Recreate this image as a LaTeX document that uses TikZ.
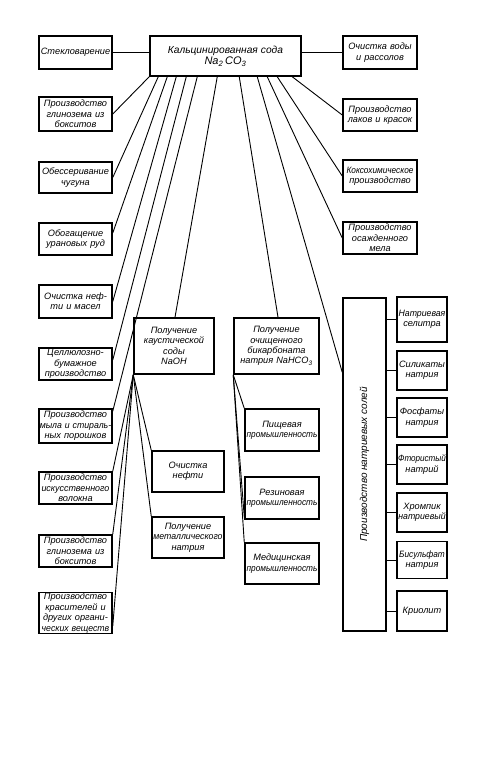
\documentclass[tikz,border=0pt]{standalone}
\usepackage{fontspec}
\usepackage{graphicx}
\setmainfont{Liberation Sans}
\usetikzlibrary{calc}
\tikzset{
  bx/.style={draw, line width=1.5pt, inner xsep=0pt, inner ysep=0.5pt, align=center, font=\itshape\fontsize{9.2}{10.4}\selectfont},
  cn/.style={line width=0.9pt},
  lbl/.style={inner sep=0pt, font=\itshape\fontsize{10}{11}\selectfont},
}
\newcommand{\bxn}[6]{\node[bx,text width=#4pt,minimum width=#4pt,minimum height=#5pt] (#1) at (#2,#3) {#6};}
\newcommand{\nr}[2][0.95]{\scalebox{#1}[1]{#2}}
\begin{document}
\begin{tikzpicture}[x=1pt,y=-1pt]
\useasboundingbox (0,0) rectangle (500,784);
% left column
\bxn{steklo}{75.5}{52.5}{73}{33}{Стекловарение}
\bxn{glin1}{75.5}{114}{73}{34}{Производство\\глинозема из\\бокситов}
\bxn{obes}{75.5}{177.5}{73}{31}{Обессеривание\\чугуна}
\bxn{obog}{75.5}{239}{73}{32}{Обогащение\\урановых руд}
\bxn{neft}{75.5}{301.5}{73}{33}{Очистка неф-\\ти и масел}
\bxn{cell}{75.5}{364}{73}{32}{Целлюлозно-\\бумажное\\производство}
\bxn{mylo}{75.5}{426}{73}{34}{Производство\\\nr{мыла и стираль-}\\ных порошков}
\bxn{volok}{75.5}{488}{73}{32}{Производство\\\nr[0.97]{искусственного}\\волокна}
\bxn{glin2}{75.5}{551}{73}{32}{Производство\\глинозема из\\бокситов}
\bxn{kras}{75.5}{613}{73}{40}{Производство\\красителей и\\других органи-\\\nr{ческих веществ}}
% main
\bxn{main}{225.5}{56}{151}{40}{{\fontsize{10.2}{11}\selectfont Кальцинированная сода}\\[1pt]{\fontsize{11}{12}\selectfont Na\textsubscript{2}\,CO\textsubscript{3}}}
% right column
\bxn{voda}{380}{52.5}{74}{33}{Очистка воды\\и рассолов}
\bxn{laki}{380}{115}{74}{32}{Производство\\лаков и красок}
\bxn{koks}{380}{176}{74}{32}{\nr[0.9]{Коксохимическое}\\производство}
\bxn{mel}{380}{238}{74}{32}{Производство\\осажденного\\мела}
% middle
\bxn{naoh}{174}{346}{80}{56}{Получение\\каустической\\соды\\NaOH}
\bxn{nahco}{276.5}{346}{85}{56}{Получение\\очищенного\\бикарбоната\\натрия NaHCO\textsubscript{3}}
\bxn{neft2}{188}{471.5}{72}{41}{Очистка\\нефти}
\bxn{metal}{188}{537.5}{72}{41}{Получение\\\nr{металлического}\\натрия}
\bxn{pish}{282}{430}{74}{42}{Пищевая\\\nr[0.9]{промышленность}}
\bxn{rez}{282}{498}{74}{42}{Резиновая\\\nr[0.9]{промышленность}}
\bxn{med}{282}{563.5}{74}{41}{Медицинская\\\nr[0.9]{промышленность}}
% salts
\bxn{tall}{364.5}{464.5}{43}{333}{}
\node[lbl, rotate=90] (tallt) at (tall.center) {Производство натриевых солей};
\bxn{sel}{422}{319.5}{50}{45}{\nr{Натриевая}\\селитра}
\bxn{sil}{422}{370.5}{50}{39}{Силикаты\\натрия}
\bxn{fos}{422}{417.5}{50}{39}{Фосфаты\\натрия}
\bxn{fto}{422}{464.5}{50}{39}{\nr[0.88]{Фтористый}\\натрий}
\bxn{hro}{422}{512.5}{50}{39}{Хромпик\\\nr{натриевый}}
\bxn{bis}{422}{560}{50}{37}{\nr[0.9]{Бисульфат}\\натрия}
\bxn{kri}{422}{611}{50}{40}{Криолит}
% connectors from main
\draw[cn] (steklo.east) -- (steklo.east -| main.west);
\draw[cn] (main.east |- voda.west) -- (voda.west);
\draw[cn] (main.south west) -- (glin1.east);
\draw[cn] ([xshift=9pt]main.south west) -- (obes.east);
\draw[cn] ([xshift=18pt]main.south west) -- ([yshift=6pt]obog.east);
\draw[cn] ([xshift=27pt]main.south west) -- (neft.east);
\draw[cn] ([xshift=37pt]main.south west) -- ([yshift=4pt]cell.east);
\draw[cn] ([xshift=48pt]main.south west) -- ([yshift=-3pt]mylo.north east);
\draw[cn] ([xshift=68pt]main.south west) -- ([xshift=1pt]naoh.north);
\draw[cn] ([xshift=90pt]main.south west) -- ([xshift=1.5pt]nahco.north);
\draw[cn] ([xshift=108pt]main.south west) -- ([yshift=-75pt]tall.north west);
\draw[cn] ([xshift=118pt]main.south west) -- (mel.west);
\draw[cn] ([xshift=128pt]main.south west) -- (koks.west);
\draw[cn] ([xshift=143pt]main.south west) -- (laki.west);
% from NaOH
\draw[cn] (naoh.south west) -- (volok.north east);
\draw[cn] (naoh.south west) -- (glin2.north east);
\draw[cn] (naoh.south west) -- ([yshift=8pt]kras.south east);
\draw[cn] (naoh.south west) -- (neft2.north west);
\draw[cn] (naoh.south west) -- (metal.north west);
% from NaHCO3
\draw[cn] (nahco.south west) -- (pish.north west);
\draw[cn] (nahco.south west) -- ([yshift=3pt]rez.south west);
\draw[cn] (nahco.south west) -- (med.north west);
% salts
\foreach \s in {sel,sil,fos,fto,hro,bis,kri}
  \draw[cn] (tall.east |- \s.west) -- (\s.west);
\end{tikzpicture}
\end{document}
